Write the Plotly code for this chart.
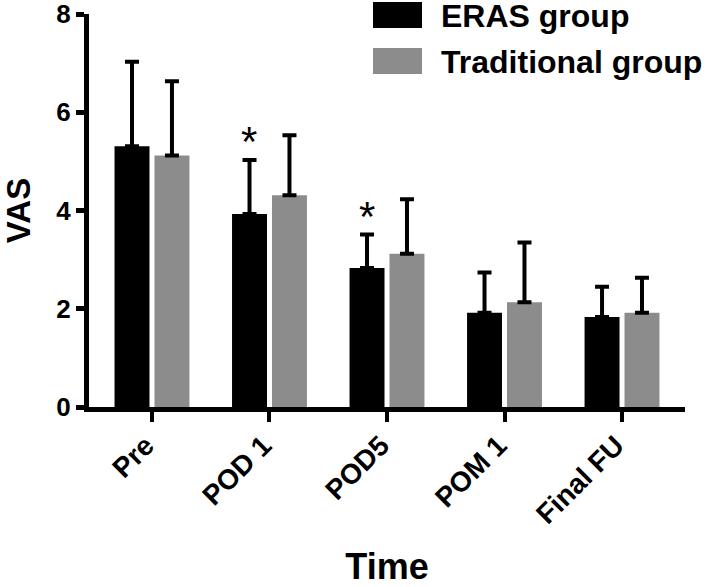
import plotly.graph_objects as go

categories = ["Pre", "POD 1", "POD5", "POM 1", "Final FU"]
eras_mean = [5.31, 3.93, 2.83, 1.92, 1.83]
eras_sd = [1.72, 1.10, 0.68, 0.82, 0.62]
trad_mean = [5.12, 4.31, 3.12, 2.13, 1.92]
trad_sd = [1.51, 1.22, 1.11, 1.22, 0.71]
significant = [False, True, True, False, False]
series_names = ["ERAS group", "Traditional group"]
series_colors = ["#000000", "#8c8c8c"]

FONT = "Liberation Sans, Arial, Helvetica, sans-serif"

fig = go.Figure()
for name, mean, sd, color in zip(series_names, [eras_mean, trad_mean], [eras_sd, trad_sd], series_colors):
    fig.add_trace(go.Bar(
        x=categories, y=mean, name=name,
        marker=dict(color=color, line=dict(width=0)),
        error_y=dict(type="data", array=sd, arrayminus=[0] * len(sd), symmetric=False,
                     color="#000000", thickness=4, width=7),
        showlegend=False,
    ))

# significance asterisks above ERAS bars
for cat, m, s, sig in zip(categories, eras_mean, eras_sd, significant):
    if sig:
        fig.add_annotation(x=cat, y=m + s, text="*", showarrow=False, xshift=-20,
                           yanchor="bottom", yshift=-7,
                           font=dict(family=FONT, size=42, color="#000000"))

# manual legend with large swatches (paper coordinates)
L, W, T, H = 89, 596, 14, 393
shape_boxes = [((373, 2), (422, 28)), ((373, 48), (422, 74))]
for (p0, p1), color, name in zip(shape_boxes, series_colors, series_names):
    y0 = 1 - (p0[1] - T) / H
    y1 = 1 - (p1[1] - T) / H
    fig.add_shape(type="rect", xref="paper", yref="paper",
                  x0=(p0[0] - L) / W, x1=(p1[0] - L) / W,
                  y0=y0, y1=y1, line=dict(width=0), fillcolor=color)
    fig.add_annotation(xref="paper", yref="paper", x=(439 - L) / W, y=(y0 + y1) / 2,
                       text=name, showarrow=False, xanchor="left", yanchor="middle",
                       yshift=-1,
                       font=dict(family=FONT, size=32, color="#000000", weight="bold"))

fig.update_layout(
    width=709, height=587,
    margin=dict(l=L, r=709 - L - W, t=T, b=587 - T - H),
    paper_bgcolor="white", plot_bgcolor="white",
    barmode="group", bargap=0.32, bargroupgap=0.125,
    font=dict(family=FONT, color="#000000"),
)
fig.update_xaxes(
    range=[-0.536, 4.536], showgrid=False, zeroline=False,
    showline=True, linecolor="#000000", linewidth=5,
    ticks="outside", ticklen=10, tickwidth=4, tickcolor="#000000",
    tickangle=-45, tickfont=dict(family=FONT, size=28, weight="bold"),
    ticklabelshift=-6, ticklabelstandoff=-4,
    title=dict(text="Time", font=dict(family=FONT, size=36, weight="bold"), standoff=28),
    automargin=False, ticklabeloverflow="allow",
)
fig.update_yaxes(
    range=[0, 8], tickvals=[0, 2, 4, 6, 8], showgrid=False, zeroline=False,
    showline=True, linecolor="#000000", linewidth=5,
    ticks="outside", ticklen=8, tickwidth=5, tickcolor="#000000",
    tickfont=dict(family=FONT, size=26, weight="bold"),
    title=dict(text="VAS", font=dict(family=FONT, size=33, weight="bold"), standoff=19),
    automargin=False, ticklabeloverflow="allow",
)

fig.write_html("out.html", config={"displayModeBar": False},
               post_script="document.body.style.margin='0px';")
